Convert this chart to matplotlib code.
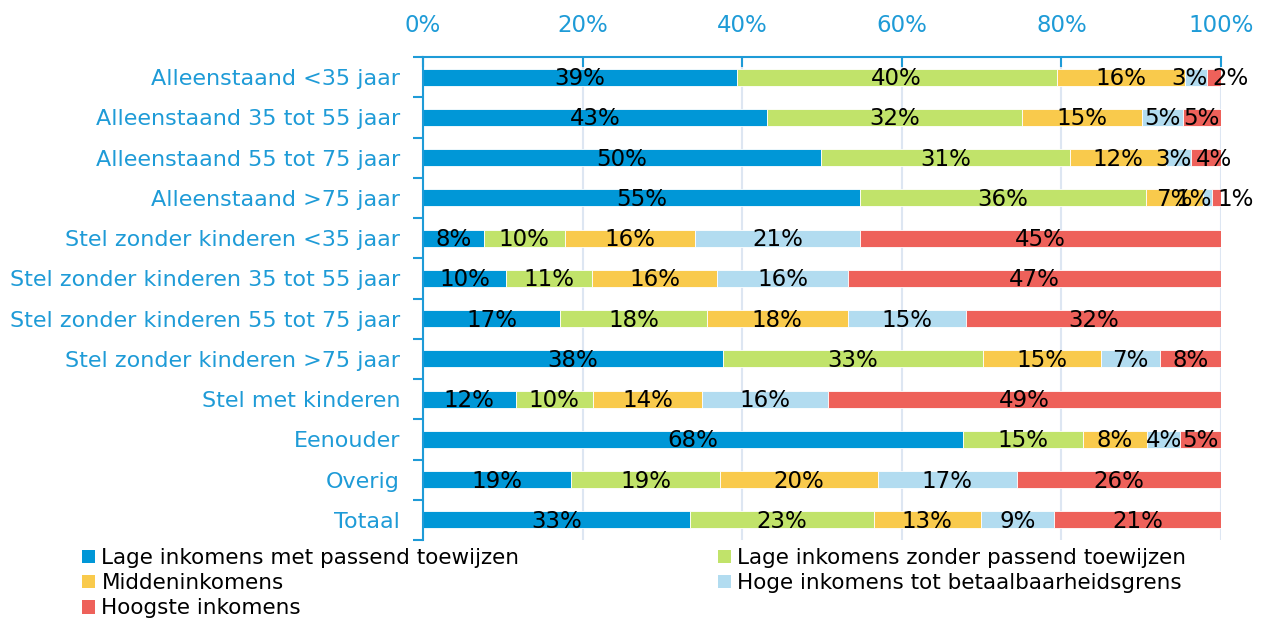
import numpy as np
import matplotlib
matplotlib.use("Agg")
import matplotlib.pyplot as plt
from matplotlib.patches import Patch

categories = [
    "Alleenstaand <35 jaar",
    "Alleenstaand 35 tot 55 jaar",
    "Alleenstaand 55 tot 75 jaar",
    "Alleenstaand >75 jaar",
    "Stel zonder kinderen <35 jaar",
    "Stel zonder kinderen 35 tot 55 jaar",
    "Stel zonder kinderen 55 tot 75 jaar",
    "Stel zonder kinderen >75 jaar",
    "Stel met kinderen",
    "Eenouder",
    "Overig",
    "Totaal",
]

series_names = [
    "Lage inkomens met passend toewijzen",
    "Lage inkomens zonder passend toewijzen",
    "Middeninkomens",
    "Hoge inkomens tot betaalbaarheidsgrens",
    "Hoogste inkomens",
]

# percentages per categorie (geschat uit de figuur)
lage_met = [39.3, 43.1, 49.9, 54.7, 7.6, 10.4, 17.2, 37.6, 11.6, 67.7, 18.6, 33.4]
lage_zonder = [40.1, 31.9, 31.2, 35.9, 10.2, 10.8, 18.4, 32.6, 9.7, 15.0, 18.6, 23.1]
midden = [16.1, 15.1, 12.0, 7.1, 16.3, 15.7, 17.6, 14.8, 13.7, 8.0, 19.8, 13.4]
hoog = [2.8, 5.1, 3.2, 1.2, 20.7, 16.3, 14.9, 7.3, 15.7, 4.2, 17.4, 9.2]
hoogste = [1.7, 4.8, 3.7, 1.1, 45.2, 46.8, 31.9, 7.7, 49.3, 5.1, 25.6, 20.9]

colors = ["#0097D7", "#C1E36A", "#F9CA4C", "#B2DCF0", "#EE615A"]
axis_blue = "#1E9BD7"

data = np.array([lage_met, lage_zonder, midden, hoog, hoogste])
n_series = len(data)

fig = plt.figure(figsize=(12.69, 6.21), dpi=100)
ax = fig.add_axes([423 / 1269, 1 - 540 / 621, 798 / 1269, 483 / 621])

y = np.arange(len(categories))
left = np.zeros(len(categories))
for k, (vals, col) in enumerate(zip(data, colors)):
    ax.barh(y, vals, left=left, height=0.42, color=col,
            edgecolor="white", linewidth=0.6, zorder=2)
    for i, (yi, l, v) in enumerate(zip(y, left, vals)):
        # kleine labels aan het eind van de balk uit elkaar schuiven
        if k == n_series - 1 and v < 4.5:
            x, ha = l + 0.6, "left"
        elif k == n_series - 2 and v < 4 and data[-1][i] < 4.5:
            x, ha = l + v, "right"
        else:
            x, ha = l + v / 2, "center"
        ax.text(x, yi + 0.04, f"{v:.0f}%", ha=ha, va="center",
                fontsize=16.5, color="black", zorder=3)
    left = left + vals

ax.set_xlim(0, 100)
ax.set_ylim(len(categories) - 0.5, -0.5)

ax.xaxis.tick_top()
ax.set_xticks([0, 20, 40, 60, 80, 100])
ax.set_xticklabels([f"{t}%" for t in [0, 20, 40, 60, 80, 100]])
ax.tick_params(axis="x", direction="in", length=7, width=1.5, color=axis_blue,
               labelcolor=axis_blue, labelsize=16.5, pad=14.5)
ax.grid(axis="x", color="#DDE6F2", linewidth=1.5, zorder=0)

ax.set_yticks(y)
ax.set_yticklabels(categories)
ax.set_yticks(np.arange(-0.5, len(categories)), minor=True)
ax.tick_params(axis="y", which="major", length=0, labelcolor=axis_blue,
               labelsize=16, pad=16.5)
ax.tick_params(axis="y", which="minor", length=7, width=1.5, color=axis_blue)

for s in ["right", "bottom"]:
    ax.spines[s].set_visible(False)
for s in ["top", "left"]:
    ax.spines[s].set_color(axis_blue)
    ax.spines[s].set_linewidth(1.5)

handles = [Patch(facecolor=c, edgecolor="none") for c in colors]
leg_kw = dict(frameon=False, fontsize=15.5, handlelength=0.6, handleheight=0.6,
              handletextpad=0.3, labelspacing=0.24, borderpad=0, borderaxespad=0)
fig.legend([handles[i] for i in (0, 2, 4)], [series_names[i] for i in (0, 2, 4)],
           loc="upper left", bbox_to_anchor=(82 / 1269, 1 - 548 / 621), **leg_kw)
fig.legend([handles[i] for i in (1, 3)], [series_names[i] for i in (1, 3)],
           loc="upper left", bbox_to_anchor=(718 / 1269, 1 - 548 / 621), **leg_kw)

fig.savefig("out.png", dpi=100)
